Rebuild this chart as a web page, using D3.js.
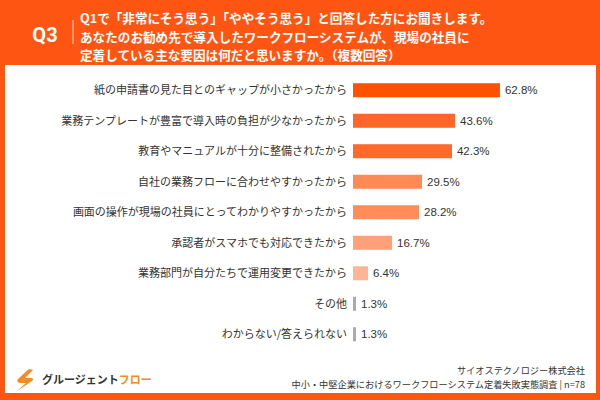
<!DOCTYPE html>
<html>
<head>
<meta charset="utf-8">
<script src="https://cdn.jsdelivr.net/npm/d3@7"></script>
<style>
  html, body { margin: 0; padding: 0; background: #fff; }
  svg { display: block; font-family: "Noto Sans CJK JP", "Noto Sans", sans-serif; }
</style>
</head>
<body>
<div id="chart"></div>
<script>
// survey answers (Q3, multiple choice, n=78)
var categories = [
  '紙の申請書の見た目とのギャップが小さかったから',
  '業務テンプレートが豊富で導入時の負担が少なかったから',
  '教育やマニュアルが十分に整備されたから',
  '自社の業務フローに合わせやすかったから',
  '画面の操作が現場の社員にとってわかりやすかったから',
  '承認者がスマホでも対応できたから',
  '業務部門が自分たちで運用変更できたから',
  'その他',
  'わからない/答えられない'
]
var values = [62.8, 43.6, 42.3, 29.5, 28.2, 16.7, 6.4, 1.3, 1.3]

var titleLines = [
  'Q1で「非常にそう思う」「ややそう思う」と回答した方にお聞きします。',
  'あなたのお勧め先で導入したワークフローシステムが、現場の社員に',
  '定着している主な要因は何だと思いますか。（複数回答）'
]
var footerLines = [
  'サイオステクノロジー株式会社',
  '中小・中堅企業におけるワークフローシステム定着失敗実態調査 | n=78'
]

var width = 600, height = 400
var orange = '#FF5512'

var svg = d3.select('#chart').append('svg')
  .attr('width', width)
  .attr('height', height)

// frame
svg.append('rect').attr('width', width).attr('height', height).attr('fill', orange)
svg.append('rect')
  .attr('x', 5).attr('y', 65)
  .attr('width', 591).attr('height', 328)
  .attr('fill', '#fff')

// header
svg.append('text')
  .attr('x', 45).attr('y', 42)
  .attr('text-anchor', 'middle')
  .attr('fill', '#fff')
  .style('font-family', 'Roboto, "Liberation Sans", sans-serif')
  .style('font-weight', 'bold')
  .style('font-size', '20px')
  .text('Q3')

svg.append('line')
  .attr('x1', 73).attr('x2', 73)
  .attr('y1', 20).attr('y2', 44)
  .attr('stroke', '#fff').attr('stroke-width', 1)
  .attr('opacity', 0.8)

svg.selectAll('.title')
  .data(titleLines)
  .enter().append('text')
  .attr('class', 'title')
  .attr('x', 80)
  .attr('y', function (d, i) { return 23 + i * 18.5 })
  .attr('fill', '#fff')
  .style('font-weight', 'bold')
  .style('font-size', '12.6px')
  .text(function (d) { return d })

// scales
var x = d3.scaleLinear()
  .domain([0, 100])
  .range([353, 587])

var y = d3.scaleBand()
  .domain(categories)
  .range([75, 349.5])
  .paddingInner(0.54)
  .paddingOuter(0.27)

var color = d3.scaleLinear()
  .domain([6.4, 16.7, 29.5, 43.6, 62.8])
  .range(['#FFB593', '#FFA07A', '#FF8A55', '#FF6628', '#FF5200'])
  .clamp(true)

var rows = categories.map(function (c, i) { return [c, values[i]] })

svg.selectAll('.bar')
  .data(rows)
  .enter().append('rect')
  .attr('class', 'bar')
  .attr('x', x(0))
  .attr('y', function (d) { return y(d[0]) })
  .attr('width', function (d) { return x(d[1]) - x(0) })
  .attr('height', y.bandwidth())
  .attr('fill', function (d) {
    if (d[1] < 5) return '#ABABAB'
    return color(d[1])
  })

svg.selectAll('.cat')
  .data(rows)
  .enter().append('text')
  .attr('class', 'cat')
  .attr('x', 347)
  .attr('y', function (d) { return y(d[0]) + y.bandwidth() / 2 })
  .attr('dy', '0.36em')
  .attr('text-anchor', 'end')
  .attr('fill', '#333')
  .style('font-size', '11px')
  .text(function (d) { return d[0] })

svg.selectAll('.val')
  .data(rows)
  .enter().append('text')
  .attr('class', 'val')
  .attr('x', function (d) { return x(d[1]) + 5 })
  .attr('y', function (d) { return y(d[0]) + y.bandwidth() / 2 })
  .attr('dy', '0.36em')
  .attr('fill', '#333')
  .style('font-family', '"Liberation Sans", Arial, sans-serif')
  .style('font-size', '11.5px')
  .text(function (d) { return d[1].toFixed(1) + '%' })

// logo
var logo = svg.append('g').attr('transform', 'translate(15,369)')
logo.append('path')
  .attr('d', 'M14,0 L4,9 Q0,13 5,14 L11,14 L2,22 L17,12 Q20,9 15,9 L10,9 L18,1 Z')
  .attr('fill', '#F58A1F')
var logoText = logo.append('text')
  .attr('x', 27).attr('y', 15)
  .style('font-weight', 'bold')
  .style('font-size', '11px')
logoText.append('tspan').attr('fill', '#333').text('グルージェント')
logoText.append('tspan').attr('fill', '#F58A1F').text('フロー')

svg.selectAll('.foot')
  .data(footerLines)
  .enter().append('text')
  .attr('class', 'foot')
  .attr('x', 585)
  .attr('y', function (d, i) { return 374 + i * 14 })
  .attr('text-anchor', 'end')
  .attr('fill', '#333')
  .style('font-size', '9.2px')
  .text(function (d) { return d })
</script>
</body>
</html>
